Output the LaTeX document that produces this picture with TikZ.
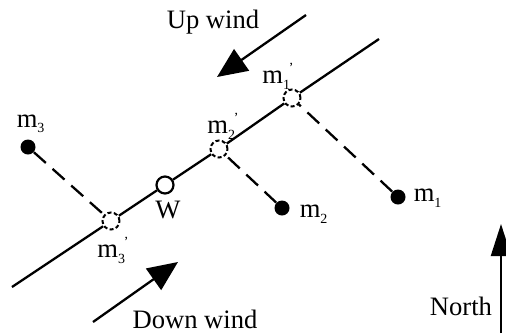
\documentclass[tikz,border=0pt]{standalone}
\usepackage{fontspec}
\setmainfont{Liberation Serif}
\usetikzlibrary{arrows.meta}
\newcommand{\mlab}[2]{m\raisebox{-0.45ex}{\scriptsize #1}\kern-0.6pt\raisebox{0.95ex}{\scriptsize #2}}
\begin{document}
\begin{tikzpicture}[x=0.5pt,y=-0.5pt,
  mainline/.style={line width=1.15pt},
  dashline/.style={line width=1.15pt,dash pattern=on 8pt off 4.5pt},
  proj/.style={circle,draw,line width=1pt,dash pattern=on 2pt off 1.2pt,minimum size=8.5pt,inner sep=0pt},
  wind/.style={circle,draw,line width=1.1pt,fill=white,minimum size=8.5pt,inner sep=0pt},
  mass/.style={circle,fill=black,minimum size=7.5pt,inner sep=0pt},
  lab/.style={inner sep=0pt,font=\fontsize{13.3}{16}\selectfont},
  bigarrow/.style={line width=1.15pt,-{Triangle[length=15pt,width=13pt]}}]
\useasboundingbox (0,0) rectangle (506,333);
\coordinate (A) at (12,287);
\coordinate (B) at (379,39);
\node[proj] (m1p) at (292,98) {};
\node[proj] (m2p) at (219,149) {};
\node[proj] (m3p) at (111,221) {};
\node[wind] (W) at (165,185) {};
\node[mass] (m1) at (398,197) {};
\node[mass] (m2) at (282,208) {};
\node[mass] (m3) at (28,147) {};
\draw[mainline] (A) -- (m3p) -- (W) -- (m2p) -- (m1p) -- (B);
\draw[dashline] (m1) -- (m1p);
\draw[dashline] (m2) -- (m2p);
\draw[dashline] (m3) -- (m3p);
% labels
\node[lab] (lm1p) at (278,76) {\mlab{1}{'}};
\node[lab] (lm2p) at (223,126) {\mlab{2}{'}};
\node[lab] (lm3p) at (113,250) {\mlab{3}{'}};
\node[lab] (lm3) at (30,124) {\mlab{3}{}};
\node[lab] (lm2) at (313,214) {\mlab{2}{}};
\node[lab] (lm1) at (427,198) {\mlab{1}{}};
\node[lab] (lW) at (168,210) {W};
% wind arrows
\coordinate (uw1) at (306,15);
\coordinate (uw2) at (217,77);
\draw[bigarrow] (uw1) -- (uw2);
\node[lab] (luw) at (213,22) {Up wind};
\coordinate (dw1) at (93,322);
\coordinate (dw2) at (178,262);
\draw[bigarrow] (dw1) -- (dw2);
\node[lab] (ldw) at (195,319) {Down wind};
\coordinate (n1) at (501,333);
\coordinate (n2) at (501,224);
\draw[line width=1.15pt,-{Triangle[length=16pt,width=10pt]}] (n1) -- (n2);
\node[lab] (lN) at (461,306) {North};
\end{tikzpicture}
\end{document}
